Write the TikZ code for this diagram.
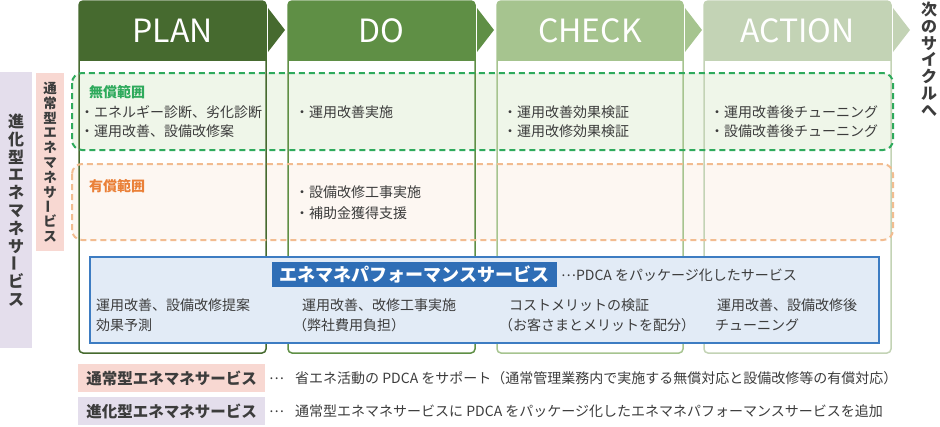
\documentclass[tikz,border=0pt]{standalone}
\usepackage{fontspec}
\setmainfont{Noto Sans CJK JP}
\definecolor{cplan}{HTML}{466A2F}
\definecolor{cdo}{HTML}{5F8F45}
\definecolor{ccheck}{HTML}{A6C48F}
\definecolor{caction}{HTML}{C3D3B5}
\definecolor{tx}{HTML}{3C3C3C}
\definecolor{gfill}{HTML}{EFF6E9}
\definecolor{gline}{HTML}{2EAA5C}
\definecolor{ofill}{HTML}{FDF7F2}
\definecolor{oline}{HTML}{F2BC90}
\definecolor{otext}{HTML}{EA8038}
\definecolor{bfill}{HTML}{E2EBF6}
\definecolor{bline}{HTML}{3D7CC2}
\definecolor{bband}{HTML}{2F6EB6}
\definecolor{lpink}{HTML}{F8D8D2}
\definecolor{lpurple}{HTML}{E4DEEC}
\newcommand\mychoon{\raisebox{-0.12em}{\rotatebox{90}{ー}}}
\newcommand\myell{\raisebox{0.3em}{…}}
\tikzset{
 txt/.style={inner sep=0pt, text=tx, font=\fontsize{14}{16}\selectfont, anchor=west},
 hdr/.style={inner sep=0pt, text=white, font=\fontsize{32}{36}\selectfont},
 reg/.style={dash pattern=on 6pt off 4pt, line width=2pt, rounded corners=10pt},
 vlab/.style={inner sep=0pt, text=tx, align=center},
 legbox/.style={minimum width=187pt, minimum height=28pt, anchor=north west, inner sep=0pt, font=\fontsize{15.5}{18}\selectfont\bfseries, text=tx},
}
\begin{document}
\begin{tikzpicture}[x=1pt,y=-1pt]
\useasboundingbox (0,0) rectangle (940,426);
% column backgrounds
\foreach \a/\b in {79/266,288/475,497/683,704/891}{\fill[white] (\a,1) rectangle (\b,353);}
% region fills
\fill[gfill, rounded corners=10pt] (72,73) rectangle (893,150);
\fill[ofill, rounded corners=10pt] (72,164) rectangle (893,240);
% columns
\foreach \n/\a/\b/\c/\t in {plan/79/266/cplan/PLAN, do/288/475/cdo/DO, check/497/683/ccheck/CHECK, action/704/891/caction/ACTION}{
 \draw[\c, line width=1.5pt, rounded corners=4pt] (\a,1) rectangle (\b,353);
 \begin{scope}
  \clip (\a-2,-1) rectangle (\b+2,60);
  \fill[\c, rounded corners=4pt] (\a,1) rectangle (\b,80);
 \end{scope}
 \node[hdr] (\n) at ({(\a+\b)/2},31) {\t};
 \fill[\c] (\b+2,8) -- (\b+19,30) -- (\b+2,52) -- cycle;
}
% region borders
\draw[gline, reg] (72,73) rectangle (893,150);
\draw[oline, reg] (72,164) rectangle (893,240);
% free-of-charge texts
\node[txt, text=gline, font=\fontsize{14}{16}\selectfont\bfseries] (free) at (89,92.5) {無償範囲};
\node[txt] (p1) at (80,112.5) {・エネルギー診断、劣化診断};
\node[txt] (p2) at (80,131) {・運用改善、設備改修案};
\node[txt] (d1) at (295,112.5) {・運用改善実施};
\node[txt] (c1) at (503,112.5) {・運用改善効果検証};
\node[txt] (c2) at (503,131) {・運用改修効果検証};
\node[txt] (a1) at (710,112.5) {・運用改善後チューニング};
\node[txt] (a2) at (710,131) {・設備改善後チューニング};
% paid texts
\node[txt, text=otext, font=\fontsize{14}{16}\selectfont\bfseries] (paid) at (89,186) {有償範囲};
\node[txt] (d2) at (295,192) {・設備改修工事実施};
\node[txt] (d3) at (295,213) {・補助金獲得支援};
% performance service box
\node[draw=bline, fill=bfill, line width=2pt, minimum width=789pt, minimum height=86pt, anchor=north west, inner sep=0pt] (eps) at (89,256) {};
\node[fill=bband, text=white, font=\fontsize{18}{20}\selectfont\bfseries, minimum width=285pt, minimum height=25pt, anchor=north west, inner sep=0pt] (band) at (272,262) {エネマネパフォーマンスサービス};
\node[txt] (bandt) at (561,275) {\myell PDCA をパッケージ化したサービス};
\node[txt] (e1) at (96,305) {運用改善、設備改修提案};
\node[txt] (e2) at (96,325) {効果予測};
\node[txt] (e3) at (302,305) {運用改善、改修工事実施};
\node[txt] (e4) at (293,325) {（弊社費用負担）};
\node[txt] (e5) at (509,305) {コストメリットの検証};
\node[txt] (e6) at (499,325) {（お客さまとメリットを配分）};
\node[txt] (e7) at (717,305) {運用改善、設備改修後};
\node[txt] (e8) at (715,325) {チューニング};
% left labels
\node[fill=lpurple, minimum width=32pt, minimum height=276pt, anchor=north west, inner sep=0pt] (evo) at (0,72) {};
\node[vlab, font=\fontsize{16}{17.8}\selectfont\bfseries] (evot) at (evo.center) {進\\化\\型\\エ\\ネ\\マ\\ネ\\サ\\\mychoon\\ビ\\ス};
\node[fill=lpink, minimum width=28pt, minimum height=178pt, anchor=north west, inner sep=0pt] (std) at (36,73) {};
\node[vlab, font=\fontsize{13.5}{14.8}\selectfont\bfseries] (stdt) at (std.center) {通\\常\\型\\エ\\ネ\\マ\\ネ\\サ\\\mychoon\\ビ\\ス};
% next cycle
\node[vlab, font=\fontsize{16}{16.8}\selectfont\bfseries] (next) at (929,59) {次\\の\\サ\\イ\\ク\\ル\\へ};
% legend
\node[legbox, fill=lpink] (leg1) at (78,364) {通常型エネマネサービス};
\node[txt] (leg1t) at (269,378) {\myell\hspace{0.8em}省エネ活動の PDCA をサポート（通常管理業務内で実施する無償対応と設備改修等の有償対応）};
\node[legbox, fill=lpurple] (leg2) at (78,397) {進化型エネマネサービス};
\node[txt] (leg2t) at (269,411) {\myell\hspace{0.8em}通常型エネマネサービスに PDCA をパッケージ化したエネマネパフォーマンスサービスを追加};
\end{tikzpicture}
\end{document}
